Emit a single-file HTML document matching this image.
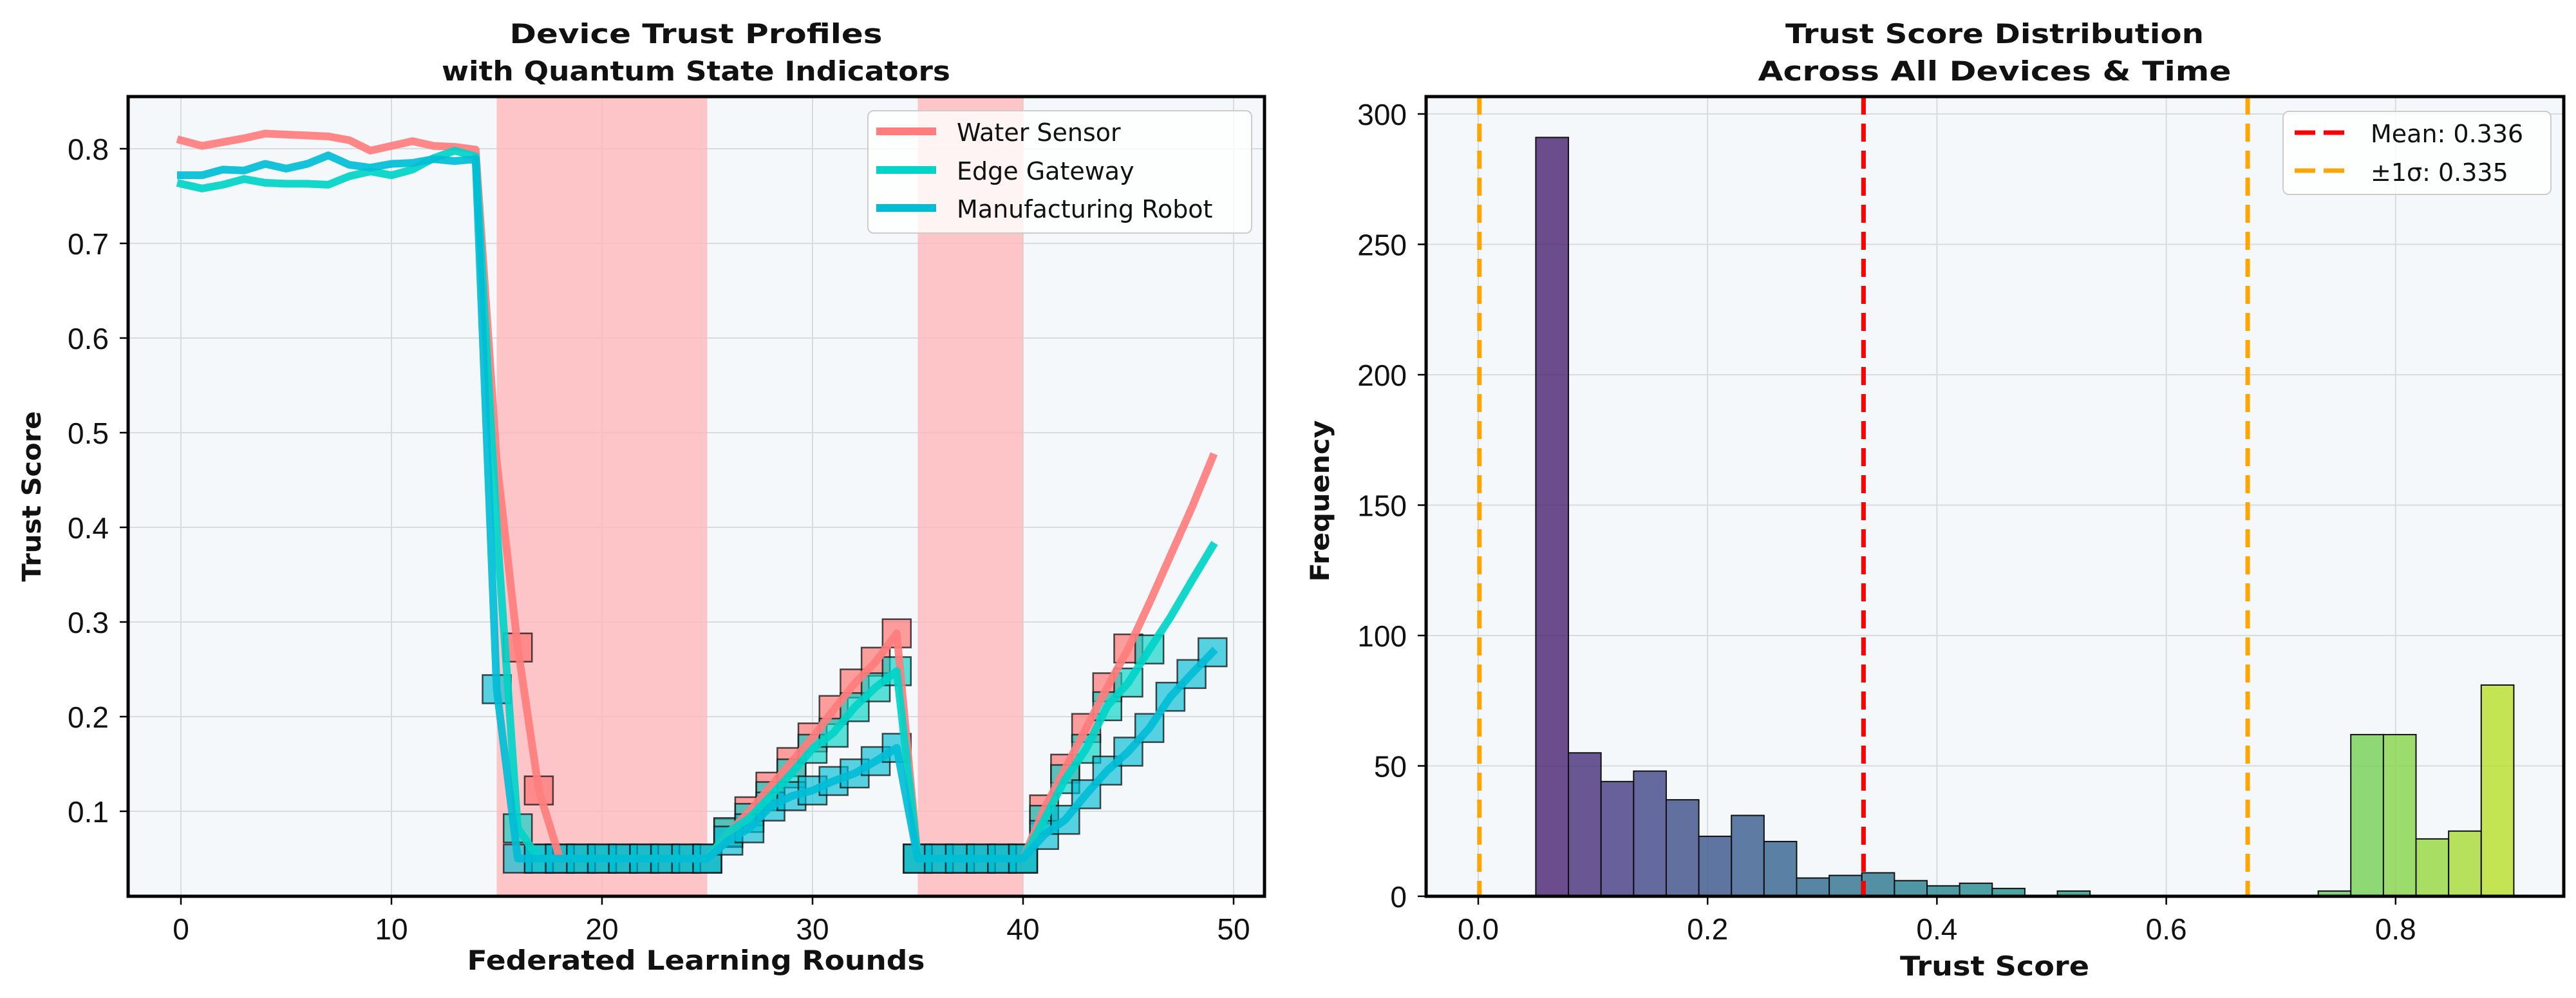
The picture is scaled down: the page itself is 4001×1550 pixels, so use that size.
<!DOCTYPE html>
<html>
<head>
<meta charset="utf-8">
<style>
html,body{margin:0;padding:0;background:#fff;}
svg{display:block;}
text{font-family:"DejaVu Sans","Liberation Sans",sans-serif;fill:#111;}
.tick{font-family:"Liberation Sans","DejaVu Sans",sans-serif;font-size:46px;}
.bold{font-weight:bold;}
</style>
</head>
<body>
<svg id="fig" xmlns="http://www.w3.org/2000/svg" width="4001" height="1550" viewBox="0 0 4001 1550">
  <rect x="0" y="0" width="4001" height="1550" fill="#ffffff"/>
  <g id="left"></g>
  <g id="right"></g>
</svg>
<script>
// ---------- Left chart data ----------
const rounds = Array.from({length:50},(_,i)=>i);
const waterSensor = [0.809,0.803,0.807,0.811,0.816,0.815,0.814,0.813,0.809,0.798,0.803,0.808,0.803,0.802,0.799,
  0.47,0.273,0.122,0.05,0.05,0.05,0.05,0.05,0.05,0.05,0.05,
  0.077,0.10,0.126,0.152,0.178,0.207,0.235,0.258,0.288,
  0.05,0.05,0.05,0.05,0.05,0.05,
  0.102,0.145,0.188,0.231,0.272,0.32,0.37,0.42,0.474];
const edgeGateway = [0.763,0.758,0.762,0.768,0.764,0.763,0.763,0.762,0.771,0.776,0.772,0.778,0.790,0.798,0.792,
  0.40,0.082,0.05,0.05,0.05,0.05,0.05,0.05,0.05,0.05,0.05,
  0.078,0.093,0.116,0.14,0.166,0.183,0.21,0.231,0.248,
  0.05,0.05,0.05,0.05,0.05,0.05,
  0.091,0.134,0.166,0.211,0.236,0.271,0.305,0.343,0.38];
const manufacturingRobot = [0.772,0.772,0.778,0.777,0.784,0.779,0.784,0.793,0.783,0.780,0.784,0.785,0.789,0.787,0.789,
  0.229,0.05,0.05,0.05,0.05,0.05,0.05,0.05,0.05,0.05,0.05,
  0.069,0.082,0.105,0.116,0.122,0.132,0.14,0.153,0.167,
  0.05,0.05,0.05,0.05,0.05,0.05,
  0.075,0.091,0.118,0.143,0.163,0.188,0.221,0.245,0.268];
const seriesNames = ["Water Sensor","Edge Gateway","Manufacturing Robot"];
const attackStarts = [15,35];
const attackEnds = [25,40];
const markerThreshold = 0.3;
const leftXTicks = [0,10,20,30,40,50];
const leftYTicks = [0.1,0.2,0.3,0.4,0.5,0.6,0.7,0.8];

// ---------- Right chart data ----------
const binStart = 0.0502;
const binWidth = 0.02843;
const binCounts = [291,55,44,48,37,23,31,21,7,8,9,6,4,5,3,0,2,0,0,0,0,0,0,0,2,62,62,22,25,81];
const meanValue = [0.336];
const sigmaValue = [0.335];
const rightXTicks = [0.0,0.2,0.4,0.6,0.8];
const rightYTicks = [0,50,100,150,200,250,300];

const NS="http://www.w3.org/2000/svg";
function mk(parent,tag,attrs,text){const e=document.createElementNS(NS,tag);for(const k in attrs)e.setAttribute(k,attrs[k]);if(text!==undefined)e.textContent=text;parent.appendChild(e);return e;}

// ---------- Left axes ----------
const L={x0:199,x1:1964,y0:150,y1:1392};
const lx=v=>281+32.7*v;
const ly=v=>231+(0.8-v)*1470;
const left=document.getElementById('left');
let e;
e=mk(left,'rect',{x:L.x0,y:L.y0,width:L.x1-L.x0,height:L.y1-L.y0,fill:'#f5f8fa'});


leftXTicks.forEach(t=>{e=mk(left,'line',{x1:lx(t),x2:lx(t),y1:L.y0,y2:L.y1,stroke:'#d9dcdf','stroke-width':2});

});
leftYTicks.forEach(t=>{e=mk(left,'line',{x1:L.x0,x2:L.x1,y1:ly(t),y2:ly(t),stroke:'#d9dcdf','stroke-width':2});

});
attackStarts.forEach((s,i)=>{e=mk(left,'rect',{x:lx(s),y:L.y0,width:lx(attackEnds[i])-lx(s),height:L.y1-L.y0,fill:'#ffb8ba','fill-opacity':0.8});

});
const seriesData=[waterSensor,edgeGateway,manufacturingRobot];
const colors=['#ff6b6b','#00d2c6','#00bcd4'];
const lineColors=['#ff7d7d','#00d4c8','#00bdd6'];
const S=44;
seriesData.forEach((d,si)=>{
  d.forEach((v,i)=>{ if(v<markerThreshold){
    e=mk(left,'rect',{x:lx(rounds[i])-S/2,y:ly(v)-S/2,width:S,height:S,fill:colors[si],'fill-opacity':0.65,stroke:'#111','stroke-opacity':0.75,'stroke-width':2.5});
    
    
  }});
});
seriesData.forEach((d,si)=>{
  const pts=d.map((v,i)=>lx(rounds[i])+','+ly(v)).join(' ');
  e=mk(left,'polyline',{points:pts,fill:'none',stroke:lineColors[si],'stroke-width':12,'stroke-linejoin':'round','stroke-linecap':'square','stroke-opacity':0.92});
  
  
});
e=mk(left,'rect',{x:L.x0,y:L.y0,width:L.x1-L.x0,height:L.y1-L.y0,fill:'none',stroke:'#000','stroke-width':5});


leftXTicks.forEach(t=>{
  e=mk(left,'line',{x1:lx(t),x2:lx(t),y1:L.y1,y2:L.y1+13,stroke:'#000','stroke-width':2.5});
  
  
  e=mk(left,'text',{x:lx(t),y:1459,'text-anchor':'middle',class:'tick'},String(t));
  
  
});
leftYTicks.forEach(t=>{
  e=mk(left,'line',{x1:L.x0-13,x2:L.x0,y1:ly(t),y2:ly(t),stroke:'#000','stroke-width':2.5});
  
  
  e=mk(left,'text',{x:169,y:ly(t)+17,'text-anchor':'end',class:'tick'},t.toFixed(1));
  
  
});
e=mk(left,'text',{x:1081,y:67,'text-anchor':'middle',class:'bold','font-size':42,textLength:579,lengthAdjust:'spacingAndGlyphs'},'Device Trust Profiles');


e=mk(left,'text',{x:1081,y:125,'text-anchor':'middle',class:'bold','font-size':42,textLength:790,lengthAdjust:'spacingAndGlyphs'},'with Quantum State Indicators');


e=mk(left,'text',{x:1081,y:1506,'text-anchor':'middle',class:'bold','font-size':42,textLength:711,lengthAdjust:'spacingAndGlyphs'},'Federated Learning Rounds');


e=mk(left,'text',{x:0,y:0,'text-anchor':'middle',class:'bold','font-size':40,textLength:265,lengthAdjust:'spacingAndGlyphs',transform:'translate(63,771) rotate(-90)'},'Trust Score');


// legend
e=mk(left,'rect',{x:1348,y:172,width:596,height:190,rx:9,fill:'#ffffff','fill-opacity':0.8,stroke:'#cccccc','stroke-width':2});


const legY=[204,264,323];
seriesNames.forEach((n,i)=>{
  e=mk(left,'line',{x1:1361,x2:1454,y1:legY[i],y2:legY[i],stroke:lineColors[i],'stroke-width':12});
  
  
  e=mk(left,'text',{x:1486,y:legY[i]+15,'font-size':38},n);
  
  
});

// ---------- Right axes ----------
const R={x0:2215,x1:3982,y0:150,y1:1392};
const rx=v=>2296+1781*v;
const ry=f=>1392-4.05*f;
const right=document.getElementById('right');
e=mk(right,'rect',{x:R.x0,y:R.y0,width:R.x1-R.x0,height:R.y1-R.y0,fill:'#f5f8fa'});


rightXTicks.forEach(t=>{e=mk(right,'line',{x1:rx(t),x2:rx(t),y1:R.y0,y2:R.y1,stroke:'#d9dcdf','stroke-width':2});

});
rightYTicks.forEach(t=>{e=mk(right,'line',{x1:R.x0,x2:R.x1,y1:ry(t),y2:ry(t),stroke:'#d9dcdf','stroke-width':2});

});
const vir=[[68,1,84],[72,36,117],[65,68,135],[57,86,140],[49,104,142],[42,120,142],[35,137,141],[31,154,138],[34,168,132],[53,183,121],[84,197,104],[122,209,81],[165,219,54],[210,226,27],[253,231,37]];
function viridis(t){t=Math.max(0,Math.min(1,t));const p=t*(vir.length-1);const i=Math.min(vir.length-2,Math.floor(p));const f=p-i;const c=vir[i].map((a,k)=>Math.round(a+(vir[i+1][k]-a)*f));return 'rgb('+c.join(',')+')';}
binCounts.forEach((c,i)=>{
  const a=binStart+i*binWidth, b=a+binWidth;
  if(c<=0) return;
  e=mk(right,'rect',{x:rx(a),y:ry(c),width:rx(b)-rx(a),height:ry(0)-ry(c),fill:viridis(a+binWidth/2),'fill-opacity':0.8,stroke:'#111','stroke-width':2});
  
  
});
e=mk(right,'line',{x1:rx(meanValue[0]),x2:rx(meanValue[0]),y1:R.y0,y2:R.y1,stroke:'#ff0000','stroke-width':7,'stroke-dasharray':'28,14'});


[meanValue[0]-sigmaValue[0],meanValue[0]+sigmaValue[0]].forEach(v=>{
  e=mk(right,'line',{x1:rx(v),x2:rx(v),y1:R.y0,y2:R.y1,stroke:'#ffa500','stroke-width':7,'stroke-dasharray':'28,14'});
  
  
});
e=mk(right,'rect',{x:R.x0,y:R.y0,width:R.x1-R.x0,height:R.y1-R.y0,fill:'none',stroke:'#000','stroke-width':5});


rightXTicks.forEach(t=>{
  e=mk(right,'line',{x1:rx(t),x2:rx(t),y1:R.y1,y2:R.y1+13,stroke:'#000','stroke-width':2.5});
  
  
  e=mk(right,'text',{x:rx(t),y:1459,'text-anchor':'middle',class:'tick'},t.toFixed(1));
  
  
});
rightYTicks.forEach(t=>{
  e=mk(right,'line',{x1:R.x0-13,x2:R.x0,y1:ry(t),y2:ry(t),stroke:'#000','stroke-width':2.5});
  
  
  e=mk(right,'text',{x:2185,y:ry(t)+17,'text-anchor':'end',class:'tick'},String(t));
  
  
});
e=mk(right,'text',{x:3098,y:67,'text-anchor':'middle',class:'bold','font-size':42,textLength:650,lengthAdjust:'spacingAndGlyphs'},'Trust Score Distribution');


e=mk(right,'text',{x:3098,y:125,'text-anchor':'middle',class:'bold','font-size':42,textLength:735,lengthAdjust:'spacingAndGlyphs'},'Across All Devices & Time');


e=mk(right,'text',{x:3098,y:1515,'text-anchor':'middle',class:'bold','font-size':42,textLength:294,lengthAdjust:'spacingAndGlyphs'},'Trust Score');


e=mk(right,'text',{x:0,y:0,'text-anchor':'middle',class:'bold','font-size':40,textLength:251,lengthAdjust:'spacingAndGlyphs',transform:'translate(2064,778) rotate(-90)'},'Frequency');


e=mk(right,'rect',{x:3546,y:173,width:416,height:129,rx:9,fill:'#ffffff','fill-opacity':0.8,stroke:'#cccccc','stroke-width':2});


e=mk(right,'line',{x1:3564,x2:3642,y1:206,y2:206,stroke:'#ff0000','stroke-width':7,'stroke-dasharray':'32,13'});


e=mk(right,'text',{x:3682,y:221,'font-size':38},'Mean: '+meanValue[0].toFixed(3));


e=mk(right,'line',{x1:3564,x2:3642,y1:265,y2:265,stroke:'#ffa500','stroke-width':7,'stroke-dasharray':'32,13'});


e=mk(right,'text',{x:3682,y:281,'font-size':38},'±1σ: '+sigmaValue[0].toFixed(3));


</script>
</body>
</html>
